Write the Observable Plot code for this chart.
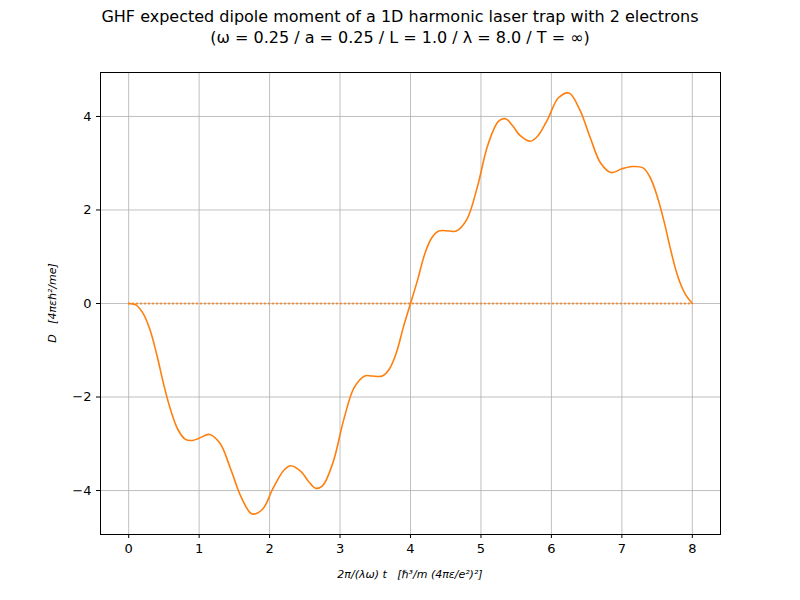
<!DOCTYPE html>
<html>
<head>
<meta charset="utf-8">
<script src="https://cdn.jsdelivr.net/npm/d3@7"></script>
<script src="https://cdn.jsdelivr.net/npm/@observablehq/plot@0.6"></script>
<style>
  body { margin: 0; background: #fff; font-family: "DejaVu Sans", sans-serif; }
  #title { width: 800px; text-align: center; font-size: 16px; line-height: 21px; padding-top: 6px; height: 58px; box-sizing: border-box; }
</style>
</head>
<body>
<div id="title">GHF expected dipole moment of a 1D harmonic laser trap with 2 electrons<br>(ω = 0.25 / a = 0.25 / L = 1.0 / λ = 8.0 / T = ∞)</div>
<div id="chart"></div>
<script>
// valeurs
const times = [0, 0.1, 0.2, 0.3, 0.4, 0.5, 0.6, 0.7, 0.8, 0.9, 1.0, 1.15, 1.3, 1.45, 1.6, 1.75, 1.9, 2.05, 2.2, 2.3, 2.45, 2.55, 2.65, 2.75, 2.9, 3.05, 3.2, 3.35, 3.45, 3.6, 3.7, 3.8, 3.9, 4.0,
  4.1, 4.2, 4.3, 4.4, 4.55, 4.65, 4.8, 4.95, 5.1, 5.25, 5.35, 5.45, 5.55, 5.7, 5.8, 5.95, 6.1, 6.25, 6.4, 6.55, 6.7, 6.85, 7.0, 7.15, 7.3, 7.4, 7.5, 7.6, 7.7, 7.8, 7.9, 8.0];
const dipole = [0, -0.03, -0.2, -0.55, -1.1, -1.75, -2.3, -2.7, -2.9, -2.93, -2.88, -2.8, -3.0, -3.55, -4.15, -4.5, -4.4, -3.95, -3.57, -3.47, -3.6, -3.8, -3.95, -3.9, -3.4, -2.5, -1.8, -1.55, -1.55, -1.55, -1.4, -1.05, -0.5, 0,
  0.5, 1.05, 1.4, 1.55, 1.55, 1.55, 1.8, 2.5, 3.4, 3.9, 3.95, 3.8, 3.6, 3.47, 3.57, 3.95, 4.4, 4.5, 4.15, 3.55, 3.0, 2.8, 2.88, 2.93, 2.9, 2.7, 2.3, 1.75, 1.1, 0.55, 0.2, 0];
const xTicks = [0, 1, 2, 3, 4, 5, 6, 7, 8];
const yTicks = [-4, -2, 0, 2, 4];

const points = times.map((t, i) => ({t, d: dipole[i]}));
const fmt = v => String(v).replace("-", "−");
const orange = "#ff7f0e";

const chart = Plot.plot({
  width: 800,
  height: 542,
  marginTop: 14,
  marginBottom: 66,
  marginLeft: 100,
  marginRight: 80,
  style: {fontFamily: "DejaVu Sans, sans-serif", fontSize: "13px", color: "#000", background: "#fff"},
  x: {domain: [-0.4, 8.4], ticks: xTicks, tickFormat: fmt, label: null, tickSize: 4},
  y: {domain: [-4.94, 4.94], ticks: yTicks, tickFormat: fmt, label: null, tickSize: 4},
  marks: [
    Plot.gridX(xTicks, {stroke: "#b0b0b0", strokeOpacity: 1, strokeWidth: 0.8}),
    Plot.gridY(yTicks, {stroke: "#b0b0b0", strokeOpacity: 1, strokeWidth: 0.8}),
    Plot.ruleY([0], {x1: 0, x2: 8, stroke: orange, strokeWidth: 1.8, strokeDasharray: "1.5,2.5"}),
    Plot.line(points, {x: "t", y: "d", stroke: orange, strokeWidth: 1.6, curve: "catmull-rom"}),
    Plot.axisX({ticks: xTicks, tickFormat: fmt, tickSize: 4, label: null}),
    Plot.axisY({ticks: yTicks, tickFormat: fmt, tickSize: 4, label: null}),
    Plot.frame({stroke: "#000"})
  ]
});

const svg = d3.select(chart);
svg.append("text")
  .attr("transform", "translate(56,245) rotate(-90)")
  .attr("text-anchor", "middle")
  .attr("font-size", 11)
  .attr("font-style", "italic")
  .text("D   [4πεℏ²/me]");
svg.append("text")
  .attr("x", 410).attr("y", 520)
  .attr("text-anchor", "middle")
  .attr("font-size", 11)
  .attr("font-style", "italic")
  .text("2π/(λω) t   [ℏ³/m (4πε/e²)²]");

document.getElementById("chart").append(chart);
</script>
</body>
</html>
